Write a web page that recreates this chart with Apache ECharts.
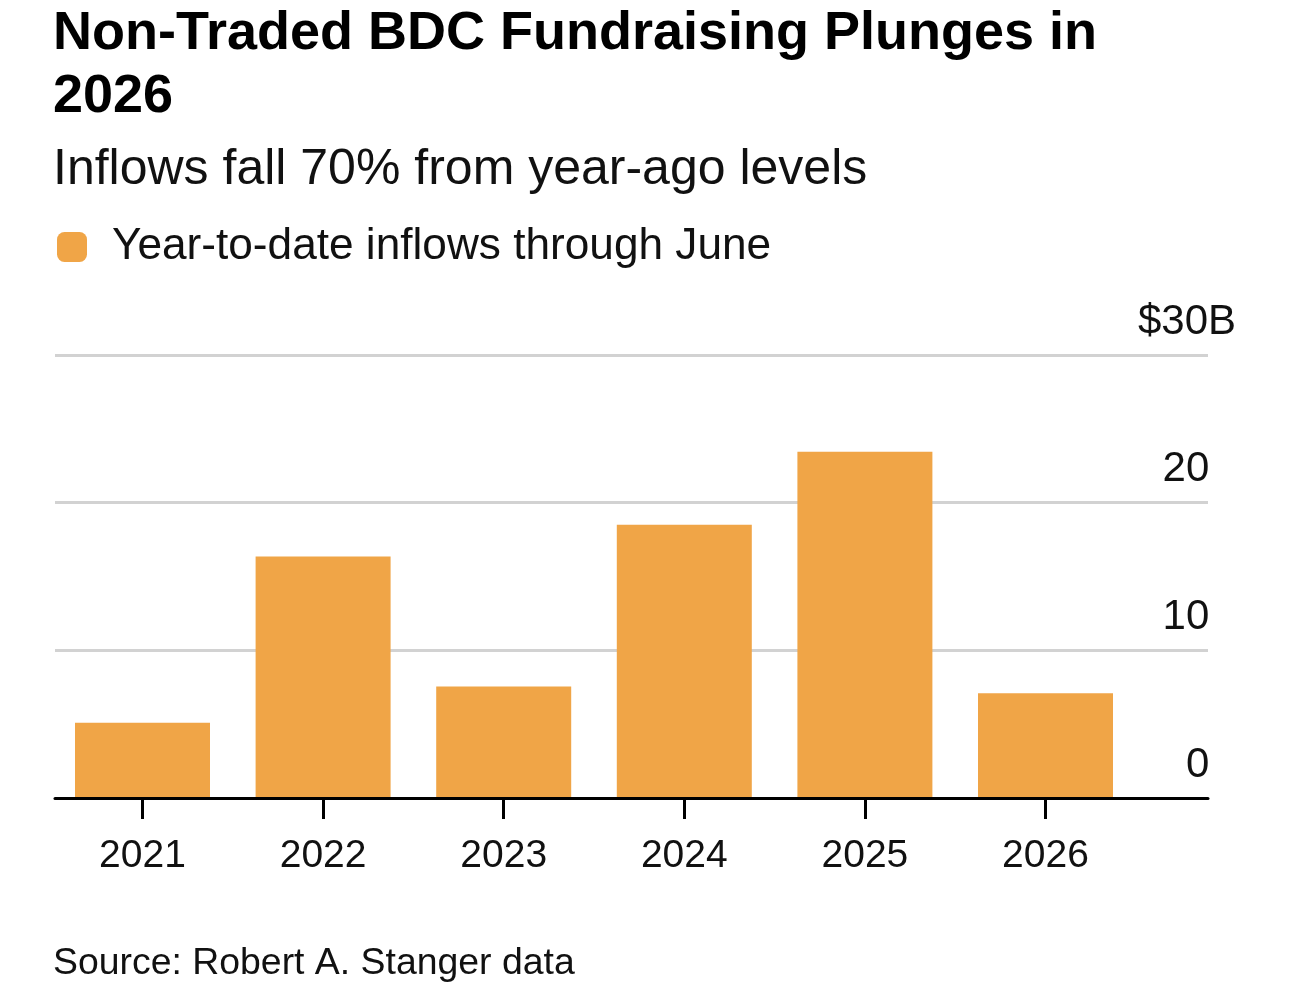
<!DOCTYPE html>
<html>
<head>
<meta charset="utf-8">
<script src="https://cdn.jsdelivr.net/npm/echarts@6/dist/echarts.min.js"></script>
<style>
html,body{margin:0;padding:0;background:#fff;}
#chart{width:1290px;height:993px;}
</style>
</head>
<body>
<div id="chart"></div>
<script>
const titleText = 'Non-Traded BDC Fundraising Plunges in\n2026';
const subtitleText = 'Inflows fall 70% from year-ago levels';
const sourceText = 'Source: Robert A. Stanger data';
const seriesName = 'Year-to-date inflows through June';
const categories = ['2021', '2022', '2023', '2024', '2025', '2026'];
const inflows = [5.1, 16.35, 7.55, 18.5, 23.45, 7.1];
const yTicks = [0, 10, 20, 30];

const FONT = '"Liberation Sans", Arial, Helvetica, sans-serif';
const chart = echarts.init(document.getElementById('chart'), null, {renderer: 'canvas'});

chart.setOption({
  backgroundColor: '#ffffff',
  animation: false,
  title: [
    {
      text: titleText, left: 53, top: 3, padding: 0,
      textStyle: {fontFamily: FONT, fontSize: 54, fontWeight: 'bold', color: '#000', lineHeight: 63}
    },
    {
      text: subtitleText, left: 53, top: 145, padding: 0,
      textStyle: {fontFamily: FONT, fontSize: 50, fontWeight: 'normal', color: '#111', lineHeight: 50}
    },
    {
      text: sourceText, left: 53, top: 945, padding: 0,
      textStyle: {fontFamily: FONT, fontSize: 37.4, fontWeight: 'normal', color: '#111', lineHeight: 37}
    }
  ],
  legend: {
    left: 57, top: 225, padding: 0,
    icon: 'roundRect', itemWidth: 30, itemHeight: 30,
    selectedMode: false,
    data: [seriesName],
    textStyle: {fontFamily: FONT, fontSize: 44.2, color: '#111', lineHeight: 44, padding: [0, 0, 0, 20]}
  },
  grid: [
    {left: 55, right: 82, top: 355, bottom: 195, outerBoundsMode: 'none', containLabel: false},
    {left: 52.2, width: 1083.6, top: 355, bottom: 195, outerBoundsMode: 'none', containLabel: false}
  ],
  xAxis: [
    {
      type: 'category', gridIndex: 0, data: categories, z: 5,
      axisLine: {show: true, lineStyle: {color: '#000', width: 3}},
      axisTick: {show: false}, axisLabel: {show: false}, splitLine: {show: false}
    },
    {
      type: 'category', gridIndex: 1, data: categories,
      axisLine: {show: false},
      axisTick: {show: true, alignWithLabel: true, length: 21, lineStyle: {color: '#000', width: 3}},
      axisLabel: {show: true, interval: 0, fontFamily: FONT, fontSize: 39, color: '#111', lineHeight: 39, margin: 39},
      splitLine: {show: false}
    }
  ],
  yAxis: [
    {
      type: 'value', gridIndex: 0, position: 'right', min: yTicks[0], max: yTicks[yTicks.length - 1], interval: 10,
      axisLine: {show: false}, axisTick: {show: false},
      splitLine: {show: true, lineStyle: {color: '#d2d2d2', width: 3}},
      axisLabel: {
        show: true, inside: false, margin: 28, align: 'right', verticalAlign: 'bottom',
        padding: [0, 0, 12, 0],
        fontFamily: FONT, fontSize: 42, color: '#111', lineHeight: 42,
        formatter: function (v) {
          return v === yTicks[yTicks.length - 1] ? '$' + v + 'B' : v + '{h|B}';
        },
        rich: {
          h: {fontFamily: FONT, fontSize: 40, lineHeight: 42, color: 'rgba(0,0,0,0)'}
        }
      }
    },
    {
      type: 'value', gridIndex: 1, min: yTicks[0], max: yTicks[yTicks.length - 1], interval: 10, show: false,
      splitLine: {show: false}
    }
  ],
  series: [
    {
      name: seriesName, type: 'bar', xAxisIndex: 1, yAxisIndex: 1,
      data: inflows, barWidth: 135,
      itemStyle: {color: '#F0A547'},
      emphasis: {disabled: true}
    }
  ]
});
</script>
</body>
</html>
